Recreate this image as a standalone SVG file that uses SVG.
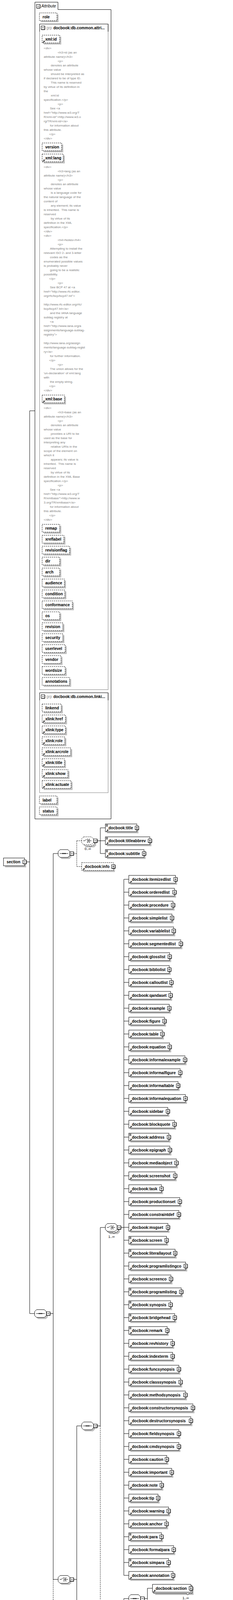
<svg xmlns="http://www.w3.org/2000/svg" width="597" height="4609" viewBox="0 0 597 4609">
<style>
.sh{fill:#c0c0c0}
.ab{fill:#fff;stroke:#000;stroke-dasharray:3,2}
.eb{fill:#fff;stroke:#000}
.ob{fill:#fff;stroke:#000}
.obd{fill:#fff;stroke:#000;stroke-dasharray:3,2}
.t{font-family:"Liberation Sans",Arial,sans-serif;font-size:10px;font-weight:bold;fill:#000}
.gp{font-family:"Liberation Sans",Arial,sans-serif;font-size:10px;fill:#909090}
.it{font-family:"Liberation Sans",Arial,sans-serif;font-size:10px;font-style:italic;fill:#000}
.an{font-family:"Liberation Sans",Arial,sans-serif;font-size:8px;fill:#808080}
.mu{font-family:"Liberation Sans",Arial,sans-serif;font-size:9px;fill:#000;text-anchor:end}
.c{fill:none;stroke:#000}
.cd{fill:none;stroke:#000;stroke-dasharray:3,2}
.gb{fill:#fff;stroke:#808080}
.nt{fill:#fff;stroke:#000}
</style>
<defs>
<g id="pl"><rect x="0.5" y="0.5" width="9" height="9" fill="#fff" stroke="#000"/><path d="M10 1V10H1" fill="none" stroke="#000"/><path d="M2.5 5H7.5M5 2.5V7.5" stroke="#000"/></g>
<g id="mi"><rect x="0.5" y="0.5" width="9" height="9" fill="#fff" stroke="#000"/><path d="M10 1V10H1" fill="none" stroke="#000"/><path d="M2.5 5H7.5" stroke="#000"/></g>
<g id="ar"><path d="M0.8 6.2L3.6 3.4" stroke="#000" stroke-width="1.4"/><path d="M1.8 1.5H5.5V5.2Z" fill="#000"/></g>
<path id="mx" d="M0 0.5H5M0 2.5H5M0 4.5H5" stroke="#000"/>
<path id="oct" d="M5 0H25L30 5V15L25 20H5L0 15V5Z"/>
<g id="seqi"><path d="M4 10H26" stroke="#000"/><rect x="10.5" y="8.8" width="2.4" height="2.4" fill="#000"/><rect x="13.8" y="8.8" width="2.4" height="2.4" fill="#000"/><rect x="17.1" y="8.8" width="2.4" height="2.4" fill="#000"/></g>
<g id="choi"><path d="M4 10H8L12.5 6M18.5 6V14M18.5 6H21.5M18.5 14H21.5M16.5 10H25" fill="none" stroke="#000"/><rect x="14" y="5.2" width="2" height="2" fill="#000"/><rect x="14" y="9" width="2" height="2" fill="#000"/><rect x="14" y="12.8" width="2" height="2" fill="#000"/></g>
</defs>
<rect width="597" height="4609" fill="#fff"/>

<g id="connectors">
<path class="c" d="M68 2206.5H76M76 1051.7V3362.7M76 1051.7H89M76 3362.7H88.7M127.7 3362.7H136.3M136.3 2185V4043.3M136.3 2185H149M136.3 4043.3H149M248.3 2152.3H257M257 2119.3V2185M257 2119.3H270M257 2152.3H270M257 2185H270M188 4043.3H196.7M196.7 3650.3V4437.3M196.7 3650.3H209.3M196.7 4304.3H209.3M196.7 4384.3H209.3M196.7 4437.3H209.3M248.3 3650.3H257M257 3142.3V3650.3M257 3142.3H270M309 3142.3H317.3M317.3 2251V4033M309 4158.3H317.3M317.3 4092.3V4225.3M317.3 4092.3H330M317.3 4172.3H330M317.3 4225.3H330M369 4092.3H377.7M377.7 4066V4092.3M377.7 4066H390.7M248.3 4304.3H257M257 4278.3V4304.3M257 4278.3H270M188 4539.3H196.7M196.7 4490.7V4589M196.7 4490.7H209.3M196.7 4523.3H209.3M196.7 4556H209.3M196.7 4589H209.3"/>
<path class="c" d="M317.3 2251H330M317.3 2284H330M317.3 2317H330M317.3 2350H330M317.3 2383H330M317.3 2416H330M317.3 2449H330M317.3 2482H330M317.3 2515H330M317.3 2548H330M317.3 2581H330M317.3 2614H330M317.3 2647H330M317.3 2680H330M317.3 2713H330M317.3 2746H330M317.3 2779H330M317.3 2812H330M317.3 2845H330M317.3 2878H330M317.3 2911H330M317.3 2944H330M317.3 2977H330M317.3 3010H330M317.3 3043H330M317.3 3076H330M317.3 3109H330M317.3 3142H330M317.3 3175H330M317.3 3208H330M317.3 3241H330M317.3 3274H330M317.3 3307H330M317.3 3340H330M317.3 3373H330M317.3 3406H330M317.3 3439H330M317.3 3472H330M317.3 3505H330M317.3 3538H330M317.3 3571H330M317.3 3604H330M317.3 3637H330M317.3 3670H330M317.3 3703H330M317.3 3736H330M317.3 3769H330M317.3 3802H330M317.3 3835H330M317.3 3868H330M317.3 3901H330M317.3 3934H330M317.3 3967H330M317.3 4000H330M317.3 4033H330"/>
<path class="cd" d="M188 2185H196.7M196.7 2152.3V2218.3M196.7 2152.3H209.3M196.7 2218.3H209.3M257 3650.3V4158.3M257 4158.3H270M377.7 4092.3V4119.3M377.7 4119.3H390.7M257 4304.3V4331.7M257 4331.7H270M136.3 4043.3V4539.3M136.3 4539.3H149"/>
</g>

<g id="attributes">
<path d="M89.5 5.5H148.5V24.5H284.5V2096.5H89.5Z" fill="#fff" stroke="#000"/>
<use href="#mi" x="93" y="11"/>
<text class="it" x="106" y="19">Attribute</text>

<g id="a-role"><rect class="sh" x="105" y="37" width="45" height="20"/><rect class="ab" x="101" y="33" width="45" height="20"/><text class="t" x="109" y="47">role</text></g>

<g id="grp-common">
<rect class="gb" x="101.5" y="61.5" width="175.5" height="1704"/>
<path d="M101.5 81V61.5H277V81" fill="none" stroke="#000"/>
<use href="#mi" x="105" y="66"/>
<text class="gp" x="118.7" y="75">grp</text>
<text class="t" x="136.7" y="75">docbook:db.common.attri...</text>

<g id="a-xmlid"><rect class="sh" x="112" y="94" width="45" height="20"/><rect class="ab" x="108" y="90" width="45" height="20"/><use href="#ar" x="109" y="103"/><text class="t" x="116" y="104">xml:id</text></g>
<text class="an"><tspan x="112" y="125.7">&lt;div&gt;</tspan><tspan x="147.7" y="136.7">&lt;h3&gt;id (as an</tspan><tspan x="112" y="147.7">attribute name)&lt;/h3&gt;</tspan><tspan x="147.7" y="158.7">&lt;p&gt;</tspan><tspan x="130" y="169.7">denotes an attribute</tspan><tspan x="112" y="180.7">whose value</tspan><tspan x="130" y="191.7">should be interpreted as</tspan><tspan x="112" y="202.7">if declared to be of type ID.</tspan><tspan x="130" y="213.7">This name is reserved</tspan><tspan x="112" y="224.7">by virtue of its definition in</tspan><tspan x="112" y="235.7">the</tspan><tspan x="130" y="246.7">xml:id</tspan><tspan x="112" y="257.7">specification.&lt;/p&gt;</tspan><tspan x="147.7" y="268.7">&lt;p&gt;</tspan><tspan x="128" y="279.7">See &lt;a</tspan><tspan x="112" y="290.7">href="http://www.w3.org/T</tspan><tspan x="112" y="301.7">R/xml-id/"&gt;http://www.w3.o</tspan><tspan x="112" y="312.7">rg/TR/xml-id/&lt;/a&gt;</tspan><tspan x="128" y="323.7">for information about</tspan><tspan x="112" y="334.7">this attribute.</tspan><tspan x="126" y="345.7">&lt;/p&gt;</tspan><tspan x="112" y="356.7">&lt;/div&gt;</tspan></text>

<g id="a-version"><rect class="sh" x="112" y="370" width="50" height="20"/><rect class="ab" x="108" y="366" width="50" height="20"/><text class="t" x="116" y="380">version</text></g>

<g id="a-xmllang"><rect class="sh" x="112" y="398.3" width="54" height="20"/><rect class="ab" x="108" y="394.3" width="54" height="20"/><use href="#ar" x="109" y="407.3"/><text class="t" x="116" y="408.3">xml:lang</text></g>
<text class="an"><tspan x="112" y="429.7">&lt;div&gt;</tspan><tspan x="147.7" y="440.7">&lt;h3&gt;lang (as an</tspan><tspan x="112" y="451.7">attribute name)&lt;/h3&gt;</tspan><tspan x="147.7" y="462.7">&lt;p&gt;</tspan><tspan x="130" y="473.7">denotes an attribute</tspan><tspan x="112" y="484.7">whose value</tspan><tspan x="130" y="495.7">is a language code for</tspan><tspan x="112" y="506.7">the natural language of the</tspan><tspan x="112" y="517.7">content of</tspan><tspan x="130" y="528.7">any element; its value</tspan><tspan x="112" y="539.7">is inherited.&#160; This name is</tspan><tspan x="112" y="550.7">reserved</tspan><tspan x="130" y="561.7">by virtue of its</tspan><tspan x="112" y="572.7">definition in the XML</tspan><tspan x="112" y="583.7">specification.&lt;/p&gt;</tspan><tspan x="112" y="594.7">&lt;/div&gt;</tspan><tspan x="112" y="605.7">&lt;div&gt;</tspan><tspan x="147.7" y="616.7">&lt;h4&gt;Notes&lt;/h4&gt;</tspan><tspan x="147.7" y="627.7">&lt;p&gt;</tspan><tspan x="128" y="638.7">Attempting to install the</tspan><tspan x="112" y="649.7">relevant ISO 2- and 3-letter</tspan><tspan x="128" y="660.7">codes as the</tspan><tspan x="112" y="671.7">enumerated possible values</tspan><tspan x="112" y="682.7">is probably never</tspan><tspan x="128" y="693.7">going to be a realistic</tspan><tspan x="112" y="704.7">possibility.</tspan><tspan x="126" y="715.7">&lt;/p&gt;</tspan><tspan x="147.7" y="726.7">&lt;p&gt;</tspan><tspan x="128" y="737.7">See BCP 47 at &lt;a</tspan><tspan x="112" y="748.7">href="http://www.rfc-editor.</tspan><tspan x="112" y="759.7">org/rfc/bcp/bcp47.txt"&gt;</tspan><tspan x="112" y="781.7">http://www.rfc-editor.org/rfc/</tspan><tspan x="112" y="792.7">bcp/bcp47.txt&lt;/a&gt;</tspan><tspan x="128" y="803.7">and the IANA language</tspan><tspan x="112" y="814.7">subtag registry at</tspan><tspan x="128" y="825.7">&lt;a</tspan><tspan x="112" y="836.7">href="http://www.iana.org/a</tspan><tspan x="112" y="847.7">ssignments/language-subtag-</tspan><tspan x="112" y="858.7">registry"&gt;</tspan><tspan x="112" y="880.7">http://www.iana.org/assign</tspan><tspan x="112" y="891.7">ments/language-subtag-regist</tspan><tspan x="112" y="902.7">ry&lt;/a&gt;</tspan><tspan x="128" y="913.7">for further information.</tspan><tspan x="126" y="924.7">&lt;/p&gt;</tspan><tspan x="147.7" y="935.7">&lt;p&gt;</tspan><tspan x="128" y="946.7">The union allows for the</tspan><tspan x="112" y="957.7">'un-declaration' of xml:lang</tspan><tspan x="112" y="968.7">with</tspan><tspan x="128" y="979.7">the empty string.</tspan><tspan x="126" y="990.7">&lt;/p&gt;</tspan><tspan x="112" y="1001.7">&lt;/div&gt;</tspan></text>

<g id="a-xmlbase"><rect class="sh" x="112" y="1015.3" width="57" height="20"/><rect class="ab" x="108" y="1011.3" width="57" height="20"/><use href="#ar" x="109" y="1024.3"/><text class="t" x="116" y="1025.3">xml:base</text></g>
<text class="an"><tspan x="112" y="1046.7">&lt;div&gt;</tspan><tspan x="147.7" y="1057.7">&lt;h3&gt;base (as an</tspan><tspan x="112" y="1068.7">attribute name)&lt;/h3&gt;</tspan><tspan x="147.7" y="1079.7">&lt;p&gt;</tspan><tspan x="130" y="1090.7">denotes an attribute</tspan><tspan x="112" y="1101.7">whose value</tspan><tspan x="130" y="1112.7">provides a URI to be</tspan><tspan x="112" y="1123.7">used as the base for</tspan><tspan x="112" y="1134.7">interpreting any</tspan><tspan x="130" y="1145.7">relative URIs in the</tspan><tspan x="112" y="1156.7">scope of the element on</tspan><tspan x="112" y="1167.7">which it</tspan><tspan x="130" y="1178.7">appears; its value is</tspan><tspan x="112" y="1189.7">inherited.&#160; This name is</tspan><tspan x="112" y="1200.7">reserved</tspan><tspan x="130" y="1211.7">by virtue of its</tspan><tspan x="112" y="1222.7">definition in the XML Base</tspan><tspan x="112" y="1233.7">specification.&lt;/p&gt;</tspan><tspan x="147.7" y="1244.7">&lt;p&gt;</tspan><tspan x="128" y="1255.7">See &lt;a</tspan><tspan x="112" y="1266.7">href="http://www.w3.org/T</tspan><tspan x="112" y="1277.7">R/xmlbase/"&gt;http://www.w</tspan><tspan x="112" y="1288.7">3.org/TR/xmlbase/&lt;/a&gt;</tspan><tspan x="128" y="1299.7">for information about</tspan><tspan x="112" y="1310.7">this attribute.</tspan><tspan x="126" y="1321.7">&lt;/p&gt;</tspan><tspan x="112" y="1332.7">&lt;/div&gt;</tspan></text>

<g id="a-remap"><rect class="sh" x="112" y="1346.3" width="45" height="20"/><rect class="ab" x="108" y="1342.3" width="45" height="20"/><text class="t" x="116" y="1356.3">remap</text></g>
<g id="a-xreflabel"><rect class="sh" x="112" y="1374.3" width="55.7" height="20"/><rect class="ab" x="108" y="1370.3" width="55.7" height="20"/><text class="t" x="116" y="1384.3">xreflabel</text></g>
<g id="a-revisionflag"><rect class="sh" x="112" y="1402.3" width="70.3" height="20"/><rect class="ab" x="108" y="1398.3" width="70.3" height="20"/><text class="t" x="116" y="1412.3">revisionflag</text></g>
<g id="a-dir"><rect class="sh" x="112" y="1430.3" width="45" height="20"/><rect class="ab" x="108" y="1426.3" width="45" height="20"/><text class="t" x="116" y="1440.3">dir</text></g>
<g id="a-arch"><rect class="sh" x="112" y="1458.3" width="45" height="20"/><rect class="ab" x="108" y="1454.3" width="45" height="20"/><text class="t" x="116" y="1468.3">arch</text></g>
<g id="a-audience"><rect class="sh" x="112" y="1486.3" width="57" height="20"/><rect class="ab" x="108" y="1482.3" width="57" height="20"/><text class="t" x="116" y="1496.3">audience</text></g>
<g id="a-condition"><rect class="sh" x="112" y="1514.3" width="58" height="20"/><rect class="ab" x="108" y="1510.3" width="58" height="20"/><text class="t" x="116" y="1524.3">condition</text></g>
<g id="a-conformance"><rect class="sh" x="112" y="1542.3" width="77.3" height="20"/><rect class="ab" x="108" y="1538.3" width="77.3" height="20"/><text class="t" x="116" y="1552.3">conformance</text></g>
<g id="a-os"><rect class="sh" x="112" y="1570.3" width="45" height="20"/><rect class="ab" x="108" y="1566.3" width="45" height="20"/><text class="t" x="116" y="1580.3">os</text></g>
<g id="a-revision"><rect class="sh" x="112" y="1598.3" width="53" height="20"/><rect class="ab" x="108" y="1594.3" width="53" height="20"/><text class="t" x="116" y="1608.3">revision</text></g>
<g id="a-security"><rect class="sh" x="112" y="1626.3" width="53" height="20"/><rect class="ab" x="108" y="1622.3" width="53" height="20"/><text class="t" x="116" y="1636.3">security</text></g>
<g id="a-userlevel"><rect class="sh" x="112" y="1654.3" width="59" height="20"/><rect class="ab" x="108" y="1650.3" width="59" height="20"/><text class="t" x="116" y="1664.3">userlevel</text></g>
<g id="a-vendor"><rect class="sh" x="112" y="1682.3" width="48.3" height="20"/><rect class="ab" x="108" y="1678.3" width="48.3" height="20"/><text class="t" x="116" y="1692.3">vendor</text></g>
<g id="a-wordsize"><rect class="sh" x="112" y="1710.3" width="59" height="20"/><rect class="ab" x="108" y="1706.3" width="59" height="20"/><text class="t" x="116" y="1720.3">wordsize</text></g>
<g id="a-annotations"><rect class="sh" x="112" y="1738.3" width="70.3" height="20"/><rect class="ab" x="108" y="1734.3" width="70.3" height="20"/><text class="t" x="116" y="1748.3">annotations</text></g>
</g>

<g id="grp-linking">
<rect class="gb" x="101.5" y="1773.5" width="175.5" height="255.8"/>
<path d="M101.5 1792.7V1773.5H277V1792.7" fill="none" stroke="#000"/>
<use href="#mi" x="105" y="1778"/>
<text class="gp" x="118.7" y="1787">grp</text>
<text class="t" x="136.7" y="1787">docbook:db.common.linki...</text>
<g id="a-linkend"><rect class="sh" x="112" y="1806.3" width="49" height="20"/><rect class="ab" x="108" y="1802.3" width="49" height="20"/><text class="t" x="116" y="1816.3">linkend</text></g>
<g id="a-xlinkhref"><rect class="sh" x="112" y="1834.3" width="59.7" height="20"/><rect class="ab" x="108" y="1830.3" width="59.7" height="20"/><use href="#ar" x="109" y="1843.3"/><text class="t" x="116" y="1844.3">xlink:href</text></g>
<g id="a-xlinktype"><rect class="sh" x="112" y="1862.3" width="59.7" height="20"/><rect class="ab" x="108" y="1858.3" width="59.7" height="20"/><use href="#ar" x="109" y="1871.3"/><text class="t" x="116" y="1872.3">xlink:type</text></g>
<g id="a-xlinkrole"><rect class="sh" x="112" y="1890.3" width="58" height="20"/><rect class="ab" x="108" y="1886.3" width="58" height="20"/><use href="#ar" x="109" y="1899.3"/><text class="t" x="116" y="1900.3">xlink:role</text></g>
<g id="a-xlinkarcrole"><rect class="sh" x="112" y="1918.3" width="73" height="20"/><rect class="ab" x="108" y="1914.3" width="73" height="20"/><use href="#ar" x="109" y="1927.3"/><text class="t" x="116" y="1928.3">xlink:arcrole</text></g>
<g id="a-xlinktitle"><rect class="sh" x="112" y="1946.3" width="57" height="20"/><rect class="ab" x="108" y="1942.3" width="57" height="20"/><use href="#ar" x="109" y="1955.3"/><text class="t" x="116" y="1956.3">xlink:title</text></g>
<g id="a-xlinkshow"><rect class="sh" x="112" y="1974.3" width="66" height="20"/><rect class="ab" x="108" y="1970.3" width="66" height="20"/><use href="#ar" x="109" y="1983.3"/><text class="t" x="116" y="1984.3">xlink:show</text></g>
<g id="a-xlinkactuate"><rect class="sh" x="112" y="2002.3" width="74" height="20"/><rect class="ab" x="108" y="1998.3" width="74" height="20"/><use href="#ar" x="109" y="2011.3"/><text class="t" x="116" y="2012.3">xlink:actuate</text></g>
</g>

<g id="a-label"><rect class="sh" x="105" y="2041.7" width="45" height="20"/><rect class="ab" x="101" y="2037.7" width="45" height="20"/><text class="t" x="109" y="2051.7">label</text></g>
<g id="a-status"><rect class="sh" x="105" y="2069.7" width="45" height="20"/><rect class="ab" x="101" y="2065.7" width="45" height="20"/><text class="t" x="109" y="2079.7">status</text></g>
</g>

<g id="n-section-root"><rect class="sh" x="13" y="2200.5" width="54" height="20"/><rect class="eb" x="9" y="2196.5" width="54" height="20"/><text class="t" x="17" y="2210">section</text><use href="#mi" x="58" y="2201.5"/></g>

<g id="seq-main" transform="translate(88.7,3352.7)"><use href="#oct" class="sh" x="4" y="4"/><use href="#oct" class="ob"/><use href="#seqi"/><use href="#mi" x="30" y="5"/></g>
<g id="seq-top" transform="translate(149,2175)"><use href="#oct" class="sh" x="4" y="4"/><use href="#oct" class="ob"/><use href="#seqi"/><use href="#mi" x="30" y="5"/></g>
<g id="cho-title" transform="translate(209.3,2142.3)"><use href="#oct" class="sh" x="7" y="7"/><use href="#oct" class="obd" x="3" y="3"/><path class="nt" d="M19 23L22 26L25 23"/><use href="#oct" class="obd"/><use href="#choi"/><use href="#mi" x="30" y="5"/><text class="mu" x="24" y="33.4">0..∞</text></g>
<g id="cho-big" transform="translate(149,4033.3)"><use href="#oct" class="sh" x="4" y="4"/><use href="#oct" class="ob"/><use href="#choi"/><use href="#mi" x="30" y="5"/></g>
<g id="seq-inner" transform="translate(209.3,3640.3)"><use href="#oct" class="sh" x="4" y="4"/><use href="#oct" class="ob"/><use href="#seqi"/><use href="#mi" x="30" y="5"/></g>
<g id="cho-list" transform="translate(270,3132.3)"><use href="#oct" class="sh" x="7" y="7"/><use href="#oct" class="ob" x="3" y="3"/><path class="nt" d="M19 23L22 26L25 23"/><use href="#oct" class="ob"/><use href="#choi"/><use href="#mi" x="30" y="5"/><text class="mu" x="24" y="37">1..∞</text></g>
<g id="cho-dashed" transform="translate(270,4148.3)"><use href="#oct" class="sh" x="4" y="4"/><use href="#oct" class="obd"/><use href="#choi"/><use href="#mi" x="30" y="5"/></g>
<g id="seq-sect1" transform="translate(330,4082.3)"><use href="#oct" class="sh" x="4" y="4"/><use href="#oct" class="ob"/><use href="#seqi"/><use href="#mi" x="30" y="5"/></g>
<g id="seq-sect2" transform="translate(209.3,4294.3)"><use href="#oct" class="sh" x="4" y="4"/><use href="#oct" class="ob"/><use href="#seqi"/><use href="#mi" x="30" y="5"/></g>
<g id="cho-bottom" transform="translate(149,4529.3)"><use href="#oct" class="sh" x="7" y="7"/><use href="#oct" class="obd" x="3" y="3"/><path class="nt" d="M19 23L22 26L25 23"/><use href="#oct" class="obd"/><use href="#choi"/><use href="#mi" x="30" y="5"/><text class="mu" x="24" y="37.5">0..∞</text></g>

<g id="n-title"><rect class="sh" x="274" y="2113.3" width="80.7" height="20"/><rect class="eb" x="270" y="2109.3" width="80.7" height="20"/><use href="#mx" x="271.5" y="2110.8"/><use href="#ar" x="272" y="2122.3"/><text class="t" x="278" y="2122.8">docbook:title</text><use href="#pl" x="345.7" y="2114.3"/></g>
<g id="n-titleabbrev"><rect class="sh" x="274" y="2146.3" width="114" height="20"/><rect class="eb" x="270" y="2142.3" width="114" height="20"/><use href="#mx" x="271.5" y="2143.8"/><use href="#ar" x="272" y="2155.3"/><text class="t" x="278" y="2155.8">docbook:titleabbrev</text><use href="#pl" x="379" y="2147.3"/></g>
<g id="n-subtitle"><rect class="sh" x="274" y="2179" width="99" height="20"/><rect class="eb" x="270" y="2175" width="99" height="20"/><use href="#mx" x="271.5" y="2176.5"/><use href="#ar" x="272" y="2188"/><text class="t" x="278" y="2188.5">docbook:subtitle</text><use href="#pl" x="364" y="2180"/></g>
<g id="n-info"><rect class="sh" x="213.3" y="2212.3" width="81" height="20"/><rect class="ab" x="209.3" y="2208.3" width="81" height="20"/><use href="#ar" x="211.3" y="2221.3"/><text class="t" x="217.3" y="2221.8">docbook:info</text><use href="#pl" x="285.3" y="2213.3"/></g>

<g id="choice-children">
<g id="n-itemizedlist"><rect class="sh" x="334" y="2245" width="119.7" height="20"/><rect class="eb" x="330" y="2241" width="119.7" height="20"/><use href="#ar" x="332" y="2254"/><text class="t" x="338" y="2254.5">docbook:itemizedlist</text><use href="#pl" x="444.7" y="2246"/></g>
<g id="n-orderedlist"><rect class="sh" x="334" y="2278" width="117" height="20"/><rect class="eb" x="330" y="2274" width="117" height="20"/><use href="#ar" x="332" y="2287"/><text class="t" x="338" y="2287.5">docbook:orderedlist</text><use href="#pl" x="442" y="2279"/></g>
<g id="n-procedure"><rect class="sh" x="334" y="2311" width="113.3" height="20"/><rect class="eb" x="330" y="2307" width="113.3" height="20"/><use href="#ar" x="332" y="2320"/><text class="t" x="338" y="2320.5">docbook:procedure</text><use href="#pl" x="438.3" y="2312"/></g>
<g id="n-simplelist"><rect class="sh" x="334" y="2344" width="110.7" height="20"/><rect class="eb" x="330" y="2340" width="110.7" height="20"/><use href="#ar" x="332" y="2353"/><text class="t" x="338" y="2353.5">docbook:simplelist</text><use href="#pl" x="435.7" y="2345"/></g>
<g id="n-variablelist"><rect class="sh" x="334" y="2377" width="115" height="20"/><rect class="eb" x="330" y="2373" width="115" height="20"/><use href="#ar" x="332" y="2386"/><text class="t" x="338" y="2386.5">docbook:variablelist</text><use href="#pl" x="440" y="2378"/></g>
<g id="n-segmentedlist"><rect class="sh" x="334" y="2410" width="133.3" height="20"/><rect class="eb" x="330" y="2406" width="133.3" height="20"/><use href="#ar" x="332" y="2419"/><text class="t" x="338" y="2419.5">docbook:segmentedlist</text><use href="#pl" x="458.3" y="2411"/></g>
<g id="n-glosslist"><rect class="sh" x="334" y="2443" width="104.7" height="20"/><rect class="eb" x="330" y="2439" width="104.7" height="20"/><use href="#ar" x="332" y="2452"/><text class="t" x="338" y="2452.5">docbook:glosslist</text><use href="#pl" x="429.7" y="2444"/></g>
<g id="n-bibliolist"><rect class="sh" x="334" y="2476" width="103.7" height="20"/><rect class="eb" x="330" y="2472" width="103.7" height="20"/><use href="#ar" x="332" y="2485"/><text class="t" x="338" y="2485.5">docbook:bibliolist</text><use href="#pl" x="428.7" y="2477"/></g>
<g id="n-calloutlist"><rect class="sh" x="334" y="2509" width="109" height="20"/><rect class="eb" x="330" y="2505" width="109" height="20"/><use href="#ar" x="332" y="2518"/><text class="t" x="338" y="2518.5">docbook:calloutlist</text><use href="#pl" x="434" y="2510"/></g>
<g id="n-qandaset"><rect class="sh" x="334" y="2542" width="107" height="20"/><rect class="eb" x="330" y="2538" width="107" height="20"/><use href="#ar" x="332" y="2551"/><text class="t" x="338" y="2551.5">docbook:qandaset</text><use href="#pl" x="432" y="2543"/></g>
<g id="n-example"><rect class="sh" x="334" y="2575" width="103.7" height="20"/><rect class="eb" x="330" y="2571" width="103.7" height="20"/><use href="#ar" x="332" y="2584"/><text class="t" x="338" y="2584.5">docbook:example</text><use href="#pl" x="428.7" y="2576"/></g>
<g id="n-figure"><rect class="sh" x="334" y="2608" width="91.3" height="20"/><rect class="eb" x="330" y="2604" width="91.3" height="20"/><use href="#ar" x="332" y="2617"/><text class="t" x="338" y="2617.5">docbook:figure</text><use href="#pl" x="416.3" y="2609"/></g>
<g id="n-table"><rect class="sh" x="334" y="2641" width="86" height="20"/><rect class="eb" x="330" y="2637" width="86" height="20"/><use href="#ar" x="332" y="2650"/><text class="t" x="338" y="2650.5">docbook:table</text><use href="#pl" x="411" y="2642"/></g>
<g id="n-equation"><rect class="sh" x="334" y="2674" width="104.7" height="20"/><rect class="eb" x="330" y="2670" width="104.7" height="20"/><use href="#ar" x="332" y="2683"/><text class="t" x="338" y="2683.5">docbook:equation</text><use href="#pl" x="429.7" y="2675"/></g>
<g id="n-informalexample"><rect class="sh" x="334" y="2707" width="144" height="20"/><rect class="eb" x="330" y="2703" width="144" height="20"/><use href="#ar" x="332" y="2716"/><text class="t" x="338" y="2716.5">docbook:informalexample</text><use href="#pl" x="469" y="2708"/></g>
<g id="n-informalfigure"><rect class="sh" x="334" y="2740" width="131.7" height="20"/><rect class="eb" x="330" y="2736" width="131.7" height="20"/><use href="#ar" x="332" y="2749"/><text class="t" x="338" y="2749.5">docbook:informalfigure</text><use href="#pl" x="456.7" y="2741"/></g>
<g id="n-informaltable"><rect class="sh" x="334" y="2773" width="126.3" height="20"/><rect class="eb" x="330" y="2769" width="126.3" height="20"/><use href="#ar" x="332" y="2782"/><text class="t" x="338" y="2782.5">docbook:informaltable</text><use href="#pl" x="451.3" y="2774"/></g>
<g id="n-informalequation"><rect class="sh" x="334" y="2806" width="145" height="20"/><rect class="eb" x="330" y="2802" width="145" height="20"/><use href="#ar" x="332" y="2815"/><text class="t" x="338" y="2815.5">docbook:informalequation</text><use href="#pl" x="470" y="2807"/></g>
<g id="n-sidebar"><rect class="sh" x="334" y="2839" width="100" height="20"/><rect class="eb" x="330" y="2835" width="100" height="20"/><use href="#ar" x="332" y="2848"/><text class="t" x="338" y="2848.5">docbook:sidebar</text><use href="#pl" x="425" y="2840"/></g>
<g id="n-blockquote"><rect class="sh" x="334" y="2872" width="117" height="20"/><rect class="eb" x="330" y="2868" width="117" height="20"/><use href="#ar" x="332" y="2881"/><text class="t" x="338" y="2881.5">docbook:blockquote</text><use href="#pl" x="442" y="2873"/></g>
<g id="n-address"><rect class="sh" x="334" y="2905" width="102.7" height="20"/><rect class="eb" x="330" y="2901" width="102.7" height="20"/><use href="#mx" x="331.5" y="2902.5"/><use href="#ar" x="332" y="2914"/><text class="t" x="338" y="2914.5">docbook:address</text><use href="#pl" x="427.7" y="2906"/></g>
<g id="n-epigraph"><rect class="sh" x="334" y="2938" width="105.3" height="20"/><rect class="eb" x="330" y="2934" width="105.3" height="20"/><use href="#ar" x="332" y="2947"/><text class="t" x="338" y="2947.5">docbook:epigraph</text><use href="#pl" x="430.3" y="2939"/></g>
<g id="n-mediaobject"><rect class="sh" x="334" y="2971" width="122" height="20"/><rect class="eb" x="330" y="2967" width="122" height="20"/><use href="#ar" x="332" y="2980"/><text class="t" x="338" y="2980.5">docbook:mediaobject</text><use href="#pl" x="447" y="2972"/></g>
<g id="n-screenshot"><rect class="sh" x="334" y="3004" width="118.7" height="20"/><rect class="eb" x="330" y="3000" width="118.7" height="20"/><use href="#ar" x="332" y="3013"/><text class="t" x="338" y="3013.5">docbook:screenshot</text><use href="#pl" x="443.7" y="3005"/></g>
<g id="n-task"><rect class="sh" x="334" y="3037" width="83.7" height="20"/><rect class="eb" x="330" y="3033" width="83.7" height="20"/><use href="#ar" x="332" y="3046"/><text class="t" x="338" y="3046.5">docbook:task</text><use href="#pl" x="408.7" y="3038"/></g>
<g id="n-productionset"><rect class="sh" x="334" y="3070" width="130.7" height="20"/><rect class="eb" x="330" y="3066" width="130.7" height="20"/><use href="#ar" x="332" y="3079"/><text class="t" x="338" y="3079.5">docbook:productionset</text><use href="#pl" x="455.7" y="3071"/></g>
<g id="n-constraintdef"><rect class="sh" x="334" y="3103" width="128.3" height="20"/><rect class="eb" x="330" y="3099" width="128.3" height="20"/><use href="#ar" x="332" y="3112"/><text class="t" x="338" y="3112.5">docbook:constraintdef</text><use href="#pl" x="453.3" y="3104"/></g>
<g id="n-msgset"><rect class="sh" x="334" y="3136" width="100.3" height="20"/><rect class="eb" x="330" y="3132" width="100.3" height="20"/><use href="#ar" x="332" y="3145"/><text class="t" x="338" y="3145.5">docbook:msgset</text><use href="#pl" x="425.3" y="3137"/></g>
<g id="n-screen"><rect class="sh" x="334" y="3169" width="96.7" height="20"/><rect class="eb" x="330" y="3165" width="96.7" height="20"/><use href="#mx" x="331.5" y="3166.5"/><use href="#ar" x="332" y="3178"/><text class="t" x="338" y="3178.5">docbook:screen</text><use href="#pl" x="421.7" y="3170"/></g>
<g id="n-literallayout"><rect class="sh" x="334" y="3202" width="118.7" height="20"/><rect class="eb" x="330" y="3198" width="118.7" height="20"/><use href="#mx" x="331.5" y="3199.5"/><use href="#ar" x="332" y="3211"/><text class="t" x="338" y="3211.5">docbook:literallayout</text><use href="#pl" x="443.7" y="3203"/></g>
<g id="n-programlistingco"><rect class="sh" x="334" y="3235" width="145.7" height="20"/><rect class="eb" x="330" y="3231" width="145.7" height="20"/><use href="#ar" x="332" y="3244"/><text class="t" x="338" y="3244.5">docbook:programlistingco</text><use href="#pl" x="470.7" y="3236"/></g>
<g id="n-screenco"><rect class="sh" x="334" y="3268" width="108" height="20"/><rect class="eb" x="330" y="3264" width="108" height="20"/><use href="#ar" x="332" y="3277"/><text class="t" x="338" y="3277.5">docbook:screenco</text><use href="#pl" x="433" y="3269"/></g>
<g id="n-programlisting"><rect class="sh" x="334" y="3301" width="134.3" height="20"/><rect class="eb" x="330" y="3297" width="134.3" height="20"/><use href="#mx" x="331.5" y="3298.5"/><use href="#ar" x="332" y="3310"/><text class="t" x="338" y="3310.5">docbook:programlisting</text><use href="#pl" x="459.3" y="3302"/></g>
<g id="n-synopsis"><rect class="sh" x="334" y="3334" width="107" height="20"/><rect class="eb" x="330" y="3330" width="107" height="20"/><use href="#mx" x="331.5" y="3331.5"/><use href="#ar" x="332" y="3343"/><text class="t" x="338" y="3343.5">docbook:synopsis</text><use href="#pl" x="432" y="3335"/></g>
<g id="n-bridgehead"><rect class="sh" x="334" y="3367" width="117.7" height="20"/><rect class="eb" x="330" y="3363" width="117.7" height="20"/><use href="#mx" x="331.5" y="3364.5"/><use href="#ar" x="332" y="3376"/><text class="t" x="338" y="3376.5">docbook:bridgehead</text><use href="#pl" x="442.7" y="3368"/></g>
<g id="n-remark"><rect class="sh" x="334" y="3400" width="98.3" height="20"/><rect class="eb" x="330" y="3396" width="98.3" height="20"/><use href="#mx" x="331.5" y="3397.5"/><use href="#ar" x="332" y="3409"/><text class="t" x="338" y="3409.5">docbook:remark</text><use href="#pl" x="423.3" y="3401"/></g>
<g id="n-revhistory"><rect class="sh" x="334" y="3433" width="112.3" height="20"/><rect class="eb" x="330" y="3429" width="112.3" height="20"/><use href="#ar" x="332" y="3442"/><text class="t" x="338" y="3442.5">docbook:revhistory</text><use href="#pl" x="437.3" y="3434"/></g>
<g id="n-indexterm"><rect class="sh" x="334" y="3466" width="112.3" height="20"/><rect class="eb" x="330" y="3462" width="112.3" height="20"/><use href="#ar" x="332" y="3475"/><text class="t" x="338" y="3475.5">docbook:indexterm</text><use href="#pl" x="437.3" y="3467"/></g>
<g id="n-funcsynopsis"><rect class="sh" x="334" y="3499" width="128.3" height="20"/><rect class="eb" x="330" y="3495" width="128.3" height="20"/><use href="#ar" x="332" y="3508"/><text class="t" x="338" y="3508.5">docbook:funcsynopsis</text><use href="#pl" x="453.3" y="3500"/></g>
<g id="n-classsynopsis"><rect class="sh" x="334" y="3532" width="132.7" height="20"/><rect class="eb" x="330" y="3528" width="132.7" height="20"/><use href="#ar" x="332" y="3541"/><text class="t" x="338" y="3541.5">docbook:classsynopsis</text><use href="#pl" x="457.7" y="3533"/></g>
<g id="n-methodsynopsis"><rect class="sh" x="334" y="3565" width="145" height="20"/><rect class="eb" x="330" y="3561" width="145" height="20"/><use href="#ar" x="332" y="3574"/><text class="t" x="338" y="3574.5">docbook:methodsynopsis</text><use href="#pl" x="470" y="3566"/></g>
<g id="n-constructorsynopsis"><rect class="sh" x="334" y="3598" width="164.3" height="20"/><rect class="eb" x="330" y="3594" width="164.3" height="20"/><use href="#ar" x="332" y="3607"/><text class="t" x="338" y="3607.5">docbook:constructorsynopsis</text><use href="#pl" x="489.3" y="3599"/></g>
<g id="n-destructorsynopsis"><rect class="sh" x="334" y="3631" width="159" height="20"/><rect class="eb" x="330" y="3627" width="159" height="20"/><use href="#ar" x="332" y="3640"/><text class="t" x="338" y="3640.5">docbook:destructorsynopsis</text><use href="#pl" x="484" y="3632"/></g>
<g id="n-fieldsynopsis"><rect class="sh" x="334" y="3664" width="128.3" height="20"/><rect class="eb" x="330" y="3660" width="128.3" height="20"/><use href="#ar" x="332" y="3673"/><text class="t" x="338" y="3673.5">docbook:fieldsynopsis</text><use href="#pl" x="453.3" y="3665"/></g>
<g id="n-cmdsynopsis"><rect class="sh" x="334" y="3697" width="128.3" height="20"/><rect class="eb" x="330" y="3693" width="128.3" height="20"/><use href="#ar" x="332" y="3706"/><text class="t" x="338" y="3706.5">docbook:cmdsynopsis</text><use href="#pl" x="453.3" y="3698"/></g>
<g id="n-caution"><rect class="sh" x="334" y="3730" width="97.3" height="20"/><rect class="eb" x="330" y="3726" width="97.3" height="20"/><use href="#ar" x="332" y="3739"/><text class="t" x="338" y="3739.5">docbook:caution</text><use href="#pl" x="422.3" y="3731"/></g>
<g id="n-important"><rect class="sh" x="334" y="3763" width="110" height="20"/><rect class="eb" x="330" y="3759" width="110" height="20"/><use href="#ar" x="332" y="3772"/><text class="t" x="338" y="3772.5">docbook:important</text><use href="#pl" x="435" y="3764"/></g>
<g id="n-note"><rect class="sh" x="334" y="3796" width="84.3" height="20"/><rect class="eb" x="330" y="3792" width="84.3" height="20"/><use href="#ar" x="332" y="3805"/><text class="t" x="338" y="3805.5">docbook:note</text><use href="#pl" x="409.3" y="3797"/></g>
<g id="n-tip"><rect class="sh" x="334" y="3829" width="75" height="20"/><rect class="eb" x="330" y="3825" width="75" height="20"/><use href="#ar" x="332" y="3838"/><text class="t" x="338" y="3838.5">docbook:tip</text><use href="#pl" x="400" y="3830"/></g>
<g id="n-warning"><rect class="sh" x="334" y="3862" width="102" height="20"/><rect class="eb" x="330" y="3858" width="102" height="20"/><use href="#ar" x="332" y="3871"/><text class="t" x="338" y="3871.5">docbook:warning</text><use href="#pl" x="427" y="3863"/></g>
<g id="n-anchor"><rect class="sh" x="334" y="3895" width="96.7" height="20"/><rect class="eb" x="330" y="3891" width="96.7" height="20"/><use href="#ar" x="332" y="3904"/><text class="t" x="338" y="3904.5">docbook:anchor</text><use href="#pl" x="421.7" y="3896"/></g>
<g id="n-para"><rect class="sh" x="334" y="3928" width="83.7" height="20"/><rect class="eb" x="330" y="3924" width="83.7" height="20"/><use href="#mx" x="331.5" y="3925.5"/><use href="#ar" x="332" y="3937"/><text class="t" x="338" y="3937.5">docbook:para</text><use href="#pl" x="408.7" y="3929"/></g>
<g id="n-formalpara"><rect class="sh" x="334" y="3961" width="115" height="20"/><rect class="eb" x="330" y="3957" width="115" height="20"/><use href="#ar" x="332" y="3970"/><text class="t" x="338" y="3970.5">docbook:formalpara</text><use href="#pl" x="440" y="3962"/></g>
<g id="n-simpara"><rect class="sh" x="334" y="3994" width="102" height="20"/><rect class="eb" x="330" y="3990" width="102" height="20"/><use href="#mx" x="331.5" y="3991.5"/><use href="#ar" x="332" y="4003"/><text class="t" x="338" y="4003.5">docbook:simpara</text><use href="#pl" x="427" y="3995"/></g>
<g id="n-annotation"><rect class="sh" x="334" y="4027" width="113.3" height="20"/><rect class="eb" x="330" y="4023" width="113.3" height="20"/><use href="#ar" x="332" y="4036"/><text class="t" x="338" y="4036.5">docbook:annotation</text><use href="#pl" x="438.3" y="4028"/></g>
</g>

<g id="n-section-a"><rect class="sh" x="397.7" y="4063" width="98.3" height="20"/><rect class="eb" x="393.7" y="4059" width="98.3" height="20"/><path class="nt" d="M477 4079L481 4083L485 4079"/><rect class="eb" x="390.7" y="4056" width="98.3" height="20"/><use href="#ar" x="392.7" y="4069"/><text class="t" x="398.7" y="4069.5">docbook:section</text><use href="#pl" x="484" y="4061"/><text class="mu" x="484" y="4093.5">1..∞</text></g>
<g id="n-simplesect-b"><rect class="sh" x="397.7" y="4116.3" width="116.6" height="20"/><rect class="ab" x="393.7" y="4112.3" width="116.6" height="20"/><path class="nt" d="M495.3 4132.3L499.3 4136.3L503.3 4132.3"/><rect class="ab" x="390.7" y="4109.3" width="116.6" height="20"/><use href="#ar" x="392.7" y="4122.3"/><text class="t" x="398.7" y="4122.8">docbook:simplesect</text><use href="#pl" x="502.3" y="4114.3"/><text class="mu" x="502.3" y="4146.8">0..∞</text></g>
<g id="n-simplesect-c"><rect class="sh" x="337" y="4169.3" width="116.7" height="20"/><rect class="eb" x="333" y="4165.3" width="116.7" height="20"/><path class="nt" d="M434.7 4185.3L438.7 4189.3L442.7 4185.3"/><rect class="eb" x="330" y="4162.3" width="116.7" height="20"/><use href="#ar" x="332" y="4175.3"/><text class="t" x="338" y="4175.8">docbook:simplesect</text><use href="#pl" x="441.7" y="4167.3"/><text class="mu" x="441.7" y="4199.8">1..∞</text></g>
<g id="n-refentry-d"><rect class="sh" x="337" y="4222.3" width="102.3" height="20"/><rect class="eb" x="333" y="4218.3" width="102.3" height="20"/><path class="nt" d="M420.3 4238.3L424.3 4242.3L428.3 4238.3"/><rect class="eb" x="330" y="4215.3" width="102.3" height="20"/><use href="#ar" x="332" y="4228.3"/><text class="t" x="338" y="4228.8">docbook:refentry</text><use href="#pl" x="427.3" y="4220.3"/><text class="mu" x="427.3" y="4252.8">1..∞</text></g>
<g id="n-section-e"><rect class="sh" x="277" y="4275.3" width="98.3" height="20"/><rect class="eb" x="273" y="4271.3" width="98.3" height="20"/><path class="nt" d="M356.3 4291.3L360.3 4295.3L364.3 4291.3"/><rect class="eb" x="270" y="4268.3" width="98.3" height="20"/><use href="#ar" x="272" y="4281.3"/><text class="t" x="278" y="4281.8">docbook:section</text><use href="#pl" x="363.3" y="4273.3"/><text class="mu" x="363.3" y="4305.8">1..∞</text></g>
<g id="n-simplesect-f"><rect class="sh" x="277" y="4328.7" width="116.7" height="20"/><rect class="ab" x="273" y="4324.7" width="116.7" height="20"/><path class="nt" d="M374.7 4344.7L378.7 4348.7L382.7 4344.7"/><rect class="ab" x="270" y="4321.7" width="116.7" height="20"/><use href="#ar" x="272" y="4334.7"/><text class="t" x="278" y="4335.2">docbook:simplesect</text><use href="#pl" x="381.7" y="4326.7"/><text class="mu" x="381.7" y="4359.2">0..∞</text></g>
<g id="n-simplesect-g"><rect class="sh" x="216.3" y="4381.3" width="116.7" height="20"/><rect class="eb" x="212.3" y="4377.3" width="116.7" height="20"/><path class="nt" d="M314 4397.3L318 4401.3L322 4397.3"/><rect class="eb" x="209.3" y="4374.3" width="116.7" height="20"/><use href="#ar" x="211.3" y="4387.3"/><text class="t" x="217.3" y="4387.8">docbook:simplesect</text><use href="#pl" x="321" y="4379.3"/><text class="mu" x="321" y="4411.8">1..∞</text></g>
<g id="n-refentry-h"><rect class="sh" x="216.3" y="4434.3" width="102" height="20"/><rect class="eb" x="212.3" y="4430.3" width="102" height="20"/><path class="nt" d="M299.3 4450.3L303.3 4454.3L307.3 4450.3"/><rect class="eb" x="209.3" y="4427.3" width="102" height="20"/><use href="#ar" x="211.3" y="4440.3"/><text class="t" x="217.3" y="4440.8">docbook:refentry</text><use href="#pl" x="306.3" y="4432.3"/><text class="mu" x="306.3" y="4464.8">1..∞</text></g>

<g id="n-glossary"><rect class="sh" x="213.3" y="4484.7" width="104.4" height="20"/><rect class="eb" x="209.3" y="4480.7" width="104.4" height="20"/><use href="#ar" x="211.3" y="4493.7"/><text class="t" x="217.3" y="4494.2">docbook:glossary</text><use href="#pl" x="308.7" y="4485.7"/></g>
<g id="n-bibliography"><rect class="sh" x="213.3" y="4517.3" width="122" height="20"/><rect class="eb" x="209.3" y="4513.3" width="122" height="20"/><use href="#ar" x="211.3" y="4526.3"/><text class="t" x="217.3" y="4526.8">docbook:bibliography</text><use href="#pl" x="326.3" y="4518.3"/></g>
<g id="n-index"><rect class="sh" x="213.3" y="4550" width="89" height="20"/><rect class="eb" x="209.3" y="4546" width="89" height="20"/><use href="#ar" x="211.3" y="4559"/><text class="t" x="217.3" y="4559.5">docbook:index</text><use href="#pl" x="293.3" y="4551"/></g>
<g id="n-toc"><rect class="sh" x="213.3" y="4583" width="77.4" height="20"/><rect class="eb" x="209.3" y="4579" width="77.4" height="20"/><use href="#ar" x="211.3" y="4592"/><text class="t" x="217.3" y="4592.5">docbook:toc</text><use href="#pl" x="281.7" y="4584"/></g>
</svg>
